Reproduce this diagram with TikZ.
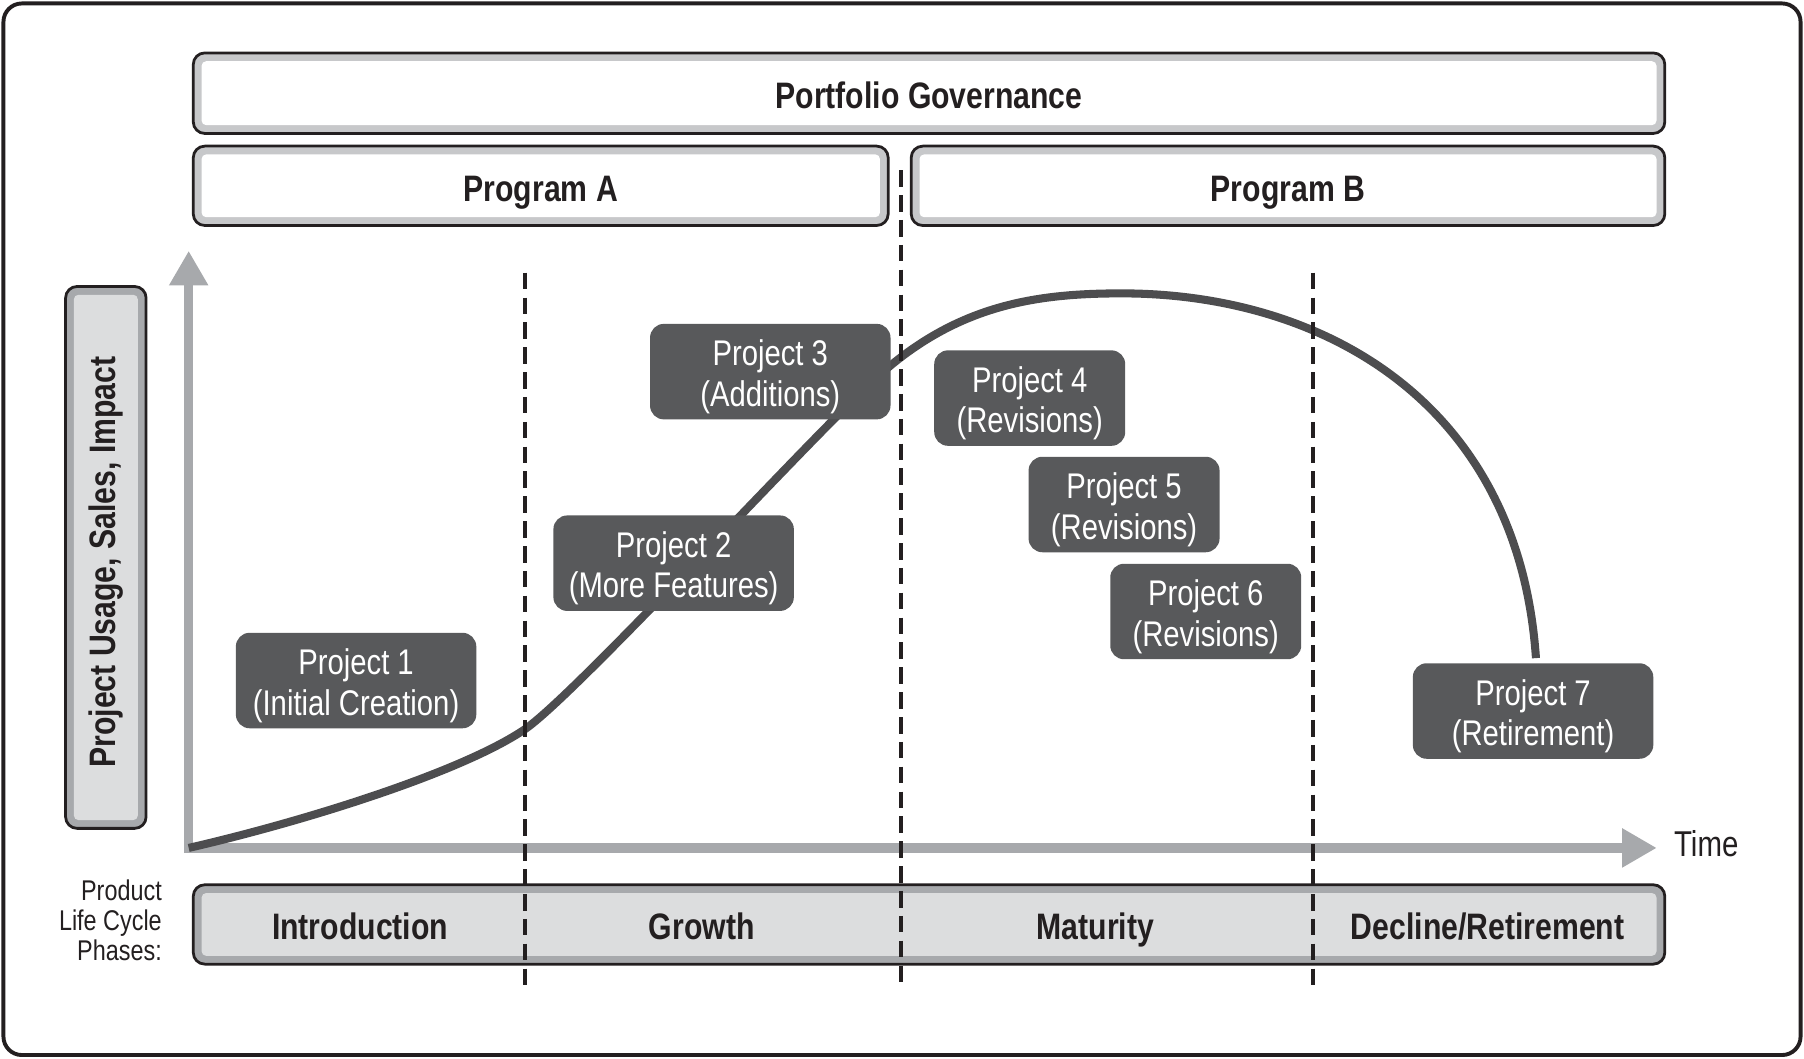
\documentclass[tikz,border=0pt]{standalone}
\usepackage{fontspec}
\usepackage{graphicx}
\setmainfont{Liberation Sans}[FakeStretch=0.82]
\usetikzlibrary{arrows.meta}
\definecolor{ink}{HTML}{231F20}
\definecolor{bandlt}{HTML}{C7C8CA}
\definecolor{banddk}{HTML}{A7A9AC}
\definecolor{innerlt}{HTML}{DCDDDE}
\definecolor{projfill}{HTML}{58595B}
\definecolor{axisg}{HTML}{A7A9AC}
\definecolor{curveg}{HTML}{4D4D4F}
\newcommand\hdfont{\fontsize{16}{18}\selectfont\bfseries}
\newcommand\prfont{\fontsize{15.5}{17.5}\selectfont}
\begin{document}
\begin{tikzpicture}[x=0.5pt,y=-0.5pt,
  framebox/.style n args={2}{draw=ink, line width=1.2pt, rounded corners=5pt,
    inner sep=0pt, fill=#1, text=ink, font=\hdfont,
    path picture={\fill[#2, rounded corners=2pt]
      ([shift={(3.6pt,-3.6pt)}]path picture bounding box.north west) rectangle
      ([shift={(-3.6pt,3.6pt)}]path picture bounding box.south east);}},
  headtext/.style={text height=13.5pt, text depth=0pt},
  projbox/.style={fill=projfill, rounded corners=6pt, text=white, align=center,
    minimum height=41.5pt, inner sep=0pt, font=\prfont,
    text height=32pt, text depth=2pt},
  phase/.style={text=ink, font=\hdfont, inner sep=0pt, headtext},
  axisline/.style={draw=axisg, line width=4pt, line join=miter,
    {Triangle[length=15pt,width=16pt]}-{Triangle[length=15pt,width=16pt]}},
  curveline/.style={draw=curveg, line width=3.5pt},
  divider/.style={draw=ink, line width=1.75pt, dash pattern=on 7.2pt off 3.6pt},
]
\useasboundingbox (0,0) rectangle (1568,920);
% outer frame
\draw[line width=1.7pt, draw=ink, rounded corners=8pt] (3,3) rectangle (1565,917);

% governance boxes
\node[framebox={bandlt}{white}, headtext, minimum width=639.5pt, minimum height=35pt] (pg) at (807.5,81) {Portfolio Governance};
\node[framebox={bandlt}{white}, headtext, minimum width=302pt, minimum height=34.5pt] (pa) at (470,161.5) {Program A};
\node[framebox={bandlt}{white}, headtext, minimum width=327.5pt, minimum height=34.5pt] (pb) at (1119.5,161.5) {Program B};

% y-axis label
\node[framebox={banddk}{innerlt}, minimum width=35pt, minimum height=235.5pt] (ylab) at (92,484.5) {\rotatebox{90}{Project Usage, Sales, Impact\hspace{4pt}}};

% phase bar
\node[framebox={banddk}{innerlt}, minimum width=639.5pt, minimum height=34.5pt] (bar) at (807.5,803.5) {};
\node[phase] (ph1) at (313,803) {Introduction};
\node[phase] (ph2) at (610,803) {Growth};
\node[phase] (ph3) at (952,803) {Maturity};
\node[phase] (ph4) at (1293,803) {Decline/Retirement};
\node[align=right, anchor=east, inner sep=0pt, text=ink, font=\fontsize{12.4}{13}\selectfont] (plc) at (141,800) {Product\\Life Cycle\\Phases:};

% axes
\coordinate (o) at (164,737);
\coordinate (ytip) at (164,218);
\coordinate (xtip) at (1440,737);
\draw[axisline] (ytip) -- (o) -- (xtip);
\node[text=ink, font=\fontsize{15.6}{17}\selectfont] (time) at (1483,733) {Time};

% life cycle curve
\draw[curveline] (o) .. controls (260,715) and (400,672) .. (456,634)
  .. controls (500,604) and (700,385) .. (760,330)
  .. controls (830,265) and (900,255) .. (975,255)
  .. controls (1150,255) and (1320,350) .. (1335,572);

% projects
\node[projbox, minimum width=104.5pt] (p1) at (309.5,591.5) {Project 1\\(Initial Creation)};
\node[projbox, minimum width=104.5pt] (p2) at (585.5,489.5) {Project 2\\(More Features)};
\node[projbox, minimum width=104.5pt] (p3) at (669.5,323) {Project 3\\(Additions)};
\node[projbox, minimum width=83pt] (p4) at (895,346) {Project 4\\(Revisions)};
\node[projbox, minimum width=83pt] (p5) at (977,438.5) {Project 5\\(Revisions)};
\node[projbox, minimum width=83pt] (p6) at (1048,531.5) {Project 6\\(Revisions)};
\node[projbox, minimum width=104.5pt] (p7) at (1332.5,618) {Project 7\\(Retirement)};

% phase dividers
\coordinate (d1t) at (456,237); \coordinate (d1b) at (456,860);
\coordinate (d2t) at (783,148); \coordinate (d2b) at (783,860);
\coordinate (d3t) at (1141,237); \coordinate (d3b) at (1141,860);
\draw[divider] (d1t) -- (d1b);
\draw[divider] (d2t) -- (d2b);
\draw[divider] (d3t) -- (d3b);
\end{tikzpicture}
\end{document}
